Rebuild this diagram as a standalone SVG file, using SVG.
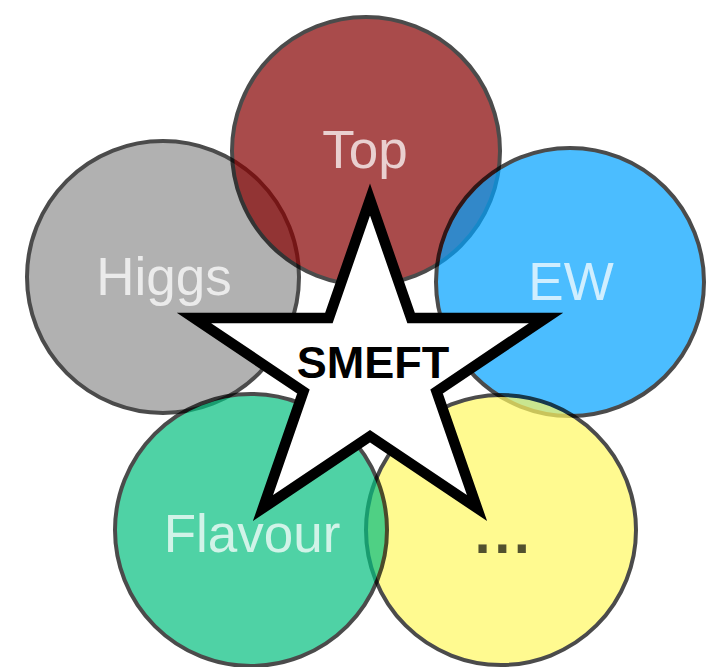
<svg xmlns="http://www.w3.org/2000/svg" width="714" height="667" viewBox="0 0 714 667">
  <style>
    .area { stroke: #000; stroke-width: 4; opacity: 0.7; }
    .label { font-family: "Liberation Sans", Arial, sans-serif; font-size: 53px; text-anchor: middle; fill: #fff; fill-opacity: 0.74; }
    .dots { font-family: "Liberation Sans", Arial, sans-serif; font-size: 58px; font-weight: bold; text-anchor: middle; fill: #000; fill-opacity: 0.68; letter-spacing: 3.5px; }
    .core { fill: #fff; stroke: #000; stroke-width: 10.5; stroke-linejoin: miter; stroke-miterlimit: 10; }
    .core-label { font-family: "Liberation Sans", Arial, sans-serif; font-size: 45px; font-weight: bold; text-anchor: middle; fill: #000; }
  </style>
  <rect width="714" height="667" fill="#fff"/>
  <g id="higgs">
    <circle class="area" cx="163" cy="277" r="136" fill="#919191"/>
  </g>
  <g id="top">
    <circle class="area" cx="366" cy="151" r="134" fill="#860000"/>
  </g>
  <g id="ew">
    <circle class="area" cx="570" cy="282" r="134" fill="#00a2ff"/>
  </g>
  <g id="more">
    <circle class="area" cx="501" cy="530" r="135" fill="#fff862"/>
  </g>
  <g id="flavour">
    <circle class="area" cx="251" cy="530" r="136" fill="#05bf7f"/>
  </g>
  <g id="labels">
    <text class="label" x="365" y="168">Top</text>
    <text class="label" x="164" y="295">Higgs</text>
    <text class="label" x="571" y="300">EW</text>
    <text class="label" x="252" y="552">Flavour</text>
    <text class="dots" x="504" y="553">...</text>
  </g>
  <g id="smeft">
    <polygon class="core" points="370,199.5 411.1,318 546,318 436.6,391.5 477,508 370,436.2 263,508 303.4,391.5 194,318 328.9,318"/>
    <text class="core-label" x="373" y="378">SMEFT</text>
  </g>
</svg>
